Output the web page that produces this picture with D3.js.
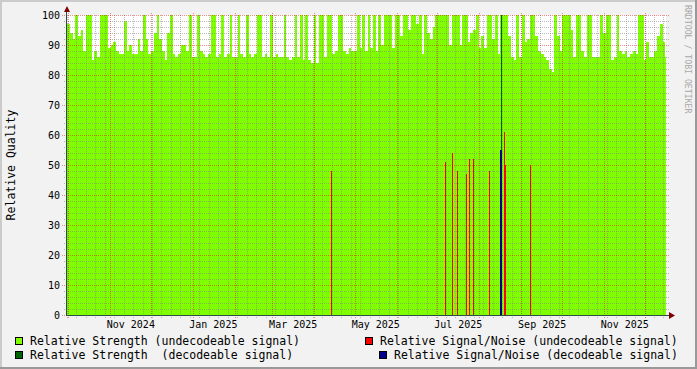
<!DOCTYPE html>
<html>
<head>
<meta charset="utf-8">
<script src="https://cdn.jsdelivr.net/npm/d3@7"></script>
<style>
  body { margin: 0; background: #f2f2f2; }
  svg text { font-family: "DejaVu Sans Mono", monospace; }
</style>
</head>
<body>
<script>
// ---- data ----
const startDate = "2024-09-30";
const stepDays = 2;
// Relative Strength (undecodeable signal), one value per 2-day step
const strengthUndecoded = [
  97,94,92,100,93,95,88,100,100,85,88,86,100,100,100,89,90,91,88,87,
  87,98,88,90,87,87,92,88,100,92,87,88,94,100,92,88,85,94,100,87,
  86,87,90,90,88,100,86,86,100,88,87,86,87,100,100,86,87,100,86,87,
  100,86,86,100,87,86,100,87,86,87,100,100,86,87,86,100,86,87,86,86,
  100,86,85,86,100,86,100,85,100,85,84,100,84,100,100,86,100,100,87,88,
  100,100,88,87,89,88,88,100,89,100,88,100,89,100,88,100,90,100,100,100,
  89,100,100,93,100,100,95,100,100,97,100,87,100,94,92,96,100,100,100,100,
  100,90,100,100,100,90,100,100,91,94,95,100,89,93,89,100,100,92,100,87,
  100,100,100,93,86,85,100,86,100,91,92,100,100,93,88,87,86,85,82,81,
  100,93,88,100,100,100,95,86,100,100,88,86,100,100,86,86,86,100,94,100,
  100,85,86,100,88,87,88,86,87,88,87,100,100,85,91,86,86,88,93,97,
  91,86
];
const strengthDecodedDates = ["2025-08-16T00:00"];
const strengthDecodedValues = [100];
const snrUndecodedDates = ["2025-04-13T12:00","2025-07-06T12:00","2025-07-11T12:00","2025-07-15T12:00",
  "2025-07-22T00:00","2025-07-24T12:00","2025-07-27T00:00","2025-08-08T00:00","2025-08-19T00:00",
  "2025-08-20T00:00","2025-09-07T12:00"];
const snrUndecodedValues = [48,51,54,48,47,52,52,48,61,50,50];
const snrDecodedDates = ["2025-08-16T00:00"];
const snrDecodedValues = [55];
const yTicks = [0,10,20,30,40,50,60,70,80,90,100];
const xLabelMonths = ["2024-11-01","2025-01-01","2025-03-01","2025-05-01","2025-07-01","2025-09-01","2025-11-01"];

const W = 697, H = 369;
const parse = d3.utcParse("%Y-%m-%d");
const parseT = d3.utcParse("%Y-%m-%dT%H:%M");
const fmt = d3.utcFormat("%b %Y");

const svg = d3.select("body").append("svg")
    .attr("width", W)
    .attr("height", H)
    .style("display","block");

// background + 3D frame
svg.append("rect").attr("width",W).attr("height",H).attr("fill","#f2f2f2");
svg.append("path").attr("d","M0,0H697V2H2V369H0Z").attr("fill","#cbcbcb");
svg.append("path").attr("d","M697,0V369H0V367H695V0Z").attr("fill","#999999");

const x = d3.scaleTime()
    .domain([new Date(Date.UTC(2024,8,29,20)), new Date(Date.UTC(2025,11,16,12))])
    .range([67, 666]);
const y = d3.scaleLinear().domain([0,100]).range([315,15]);

// canvas
svg.append("rect")
    .attr("x",67).attr("y",15)
    .attr("width",599).attr("height",300)
    .attr("fill","#ffffff");

// main area
const t0 = parse(startDate);
const areaData = strengthUndecoded.map((v,i) => ({date: d3.utcDay.offset(t0, i*stepDays), value: v}));
areaData.push({date: d3.utcDay.offset(t0, strengthUndecoded.length*stepDays), value: strengthUndecoded[strengthUndecoded.length-1]});

const area = d3.area()
    .x(d => Math.round(x(d.date)))
    .y0(y(0))
    .y1(d => y(d.value))
    .curve(d3.curveStepAfter);

const plot = svg.append("g");
plot.append("clipPath").attr("id","clip")
    .append("rect").attr("x",67).attr("y",15).attr("width",599).attr("height",300);

plot.append("path")
    .datum(areaData)
    .attr("clip-path","url(#clip)")
    .attr("shape-rendering","crispEdges")
    .attr("fill","#7fff00")
    .attr("d", area);

// grid
const grid = svg.append("g").attr("shape-rendering","crispEdges");
const minorY = d3.range(0, 101, 2).filter(v => v % 10 !== 0);
grid.selectAll(".hminor").data(minorY).join("line")
    .attr("x1",64).attr("x2",669)
    .attr("y1",d => Math.round(y(d))+0.5).attr("y2",d => Math.round(y(d))+0.5)
    .attr("stroke","rgba(130,130,130,0.55)")
    .attr("stroke-dasharray","1,1");

const weeks = d3.utcMonday.range(x.domain()[0], x.domain()[1]);
grid.selectAll(".vminor").data(weeks).join("line")
    .attr("x1",d => Math.floor(x(d))+0.5).attr("x2",d => Math.floor(x(d))+0.5)
    .attr("y1",15).attr("y2",318)
    .attr("stroke","rgba(130,130,130,0.55)")
    .attr("stroke-dasharray","1,1");

grid.selectAll(".hmajor").data(yTicks).join("line")
    .attr("x1",62).attr("x2",669)
    .attr("y1",d => Math.round(y(d))+0.5).attr("y2",d => Math.round(y(d))+0.5)
    .attr("stroke","rgba(230,0,0,0.45)")
    .attr("stroke-dasharray","1,1");

const months = d3.utcMonth.range(x.domain()[0], x.domain()[1]);
grid.selectAll(".vmajor").data(months).join("line")
    .attr("x1",d => Math.floor(x(d))+0.5).attr("x2",d => Math.floor(x(d))+0.5)
    .attr("y1",13).attr("y2",319)
    .attr("stroke","rgba(230,0,0,0.45)")
    .attr("stroke-dasharray","1,1");

// spike lines
const bars = svg.append("g").attr("shape-rendering","crispEdges");
bars.selectAll(".dg").data(strengthDecodedDates).join("rect")
    .attr("x",(d,i) => Math.floor(x(parseT(d)))+1)
    .attr("width",1)
    .attr("y",(d,i) => y(strengthDecodedValues[i]))
    .attr("height",(d,i) => y(0)-y(strengthDecodedValues[i]))
    .attr("fill","#006400");
bars.selectAll(".red").data(snrUndecodedDates).join("rect")
    .attr("x",d => Math.floor(x(parseT(d))))
    .attr("width",1)
    .attr("y",(d,i) => y(snrUndecodedValues[i]))
    .attr("height",(d,i) => y(0)-y(snrUndecodedValues[i]))
    .attr("fill","#ff0000");
bars.selectAll(".blue").data(snrDecodedDates).join("rect")
    .attr("x",d => Math.floor(x(parseT(d))))
    .attr("width",2)
    .attr("y",(d,i) => y(snrDecodedValues[i]))
    .attr("height",(d,i) => y(0)-y(snrDecodedValues[i]))
    .attr("fill","#00008b");

// axes
const axis = svg.append("g").attr("shape-rendering","crispEdges");
axis.append("line").attr("x1",66.5).attr("x2",66.5).attr("y1",10).attr("y2",316)
    .attr("stroke","#2c4d43");
axis.append("line").attr("x1",66).attr("x2",670).attr("y1",315.5).attr("y2",315.5)
    .attr("stroke","#2c4d43");
svg.append("path").attr("d","M64,12L67,6L70,12Z").attr("fill","#7f0000");
svg.append("path").attr("d","M669,312L675,315.5L669,319Z").attr("fill","#7f0000");

// tick labels
svg.selectAll(".ylab").data(yTicks).join("text")
    .attr("x",60)
    .attr("y",d => y(d)+3.5)
    .attr("text-anchor","end")
    .style("font-size","10px")
    .attr("fill","#000")
    .text(d => d);

svg.selectAll(".xlab").data(xLabelMonths).join("text")
    .attr("x",d => x(d3.utcDay.offset(parse(d),15)))
    .attr("y",327.5)
    .attr("text-anchor","middle")
    .style("font-size","10px")
    .attr("fill","#000")
    .text(d => fmt(parse(d)));

// axis title
svg.append("text")
    .attr("transform","translate(15,165) rotate(-90)")
    .attr("text-anchor","middle")
    .style("font-size","11.5px")
    .text("Relative Quality");

// watermark
svg.append("text")
    .attr("transform","translate(685,5) rotate(90)")
    .style("font-size","8.2px")
    .attr("fill","#a8a8a8")
    .text("RRDTOOL / TOBI OETIKER");

// legend
const legend = [
  {x:15, y:337, c:"#7fff00", t:"Relative Strength (undecodeable signal)"},
  {x:15, y:351, c:"#006400", t:"Relative Strength  (decodeable signal)"},
  {x:365, y:337, c:"#ff0000", t:"Relative Signal/Noise (undecodeable signal)"},
  {x:379, y:351, c:"#00008b", t:"Relative Signal/Noise (decodeable signal)"}
];
const lg = svg.selectAll(".lg").data(legend).join("g");
lg.append("rect")
    .attr("x",d => d.x+0.5).attr("y",d => d.y+0.5)
    .attr("width",7).attr("height",7)
    .attr("fill",d => d.c)
    .attr("stroke","#000");
lg.append("text")
    .attr("x",d => d.x+15)
    .attr("y",d => d.y+8)
    .style("font-size","11.5px")
    .attr("fill","#000")
    .attr("xml:space","preserve")
    .style("white-space","pre")
    .text(d => d.t);
</script>
</body>
</html>
